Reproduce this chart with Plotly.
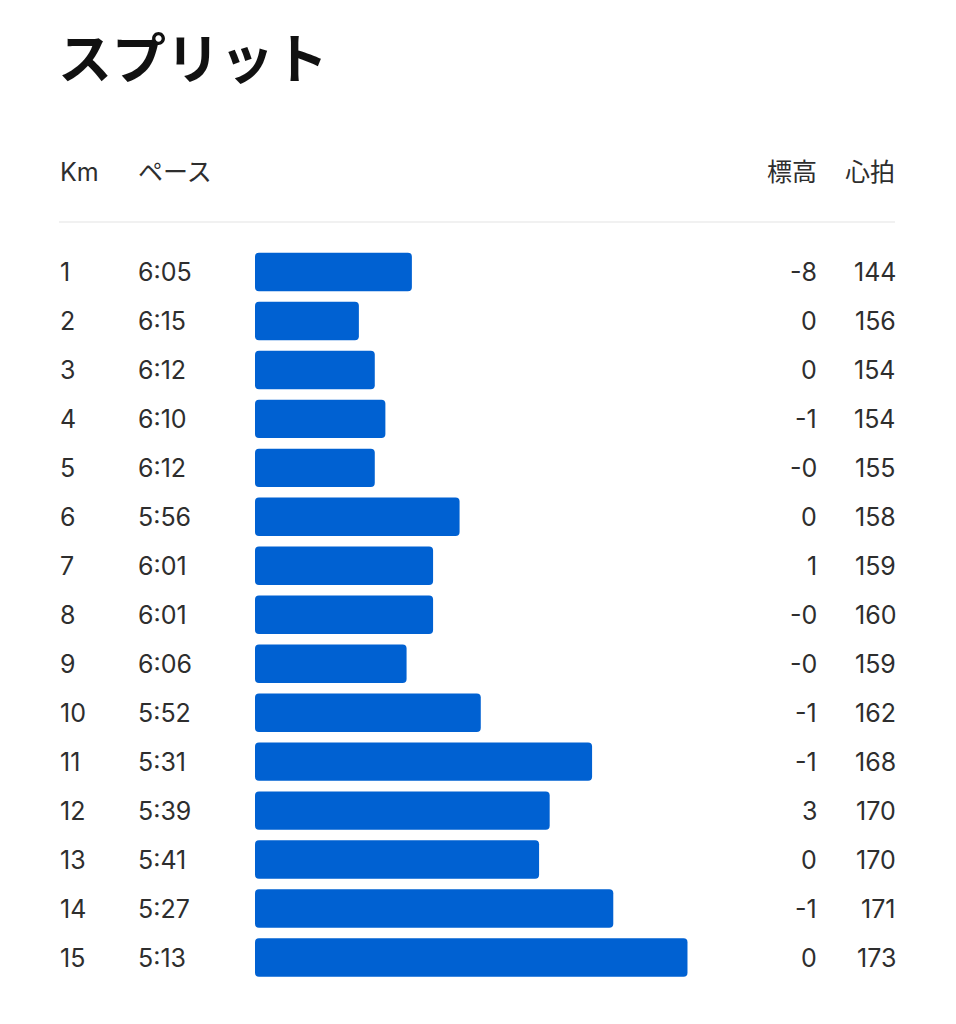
import plotly.graph_objects as go

# スプリットのデータ
km = ["1", "2", "3", "4", "5", "6", "7", "8", "9", "10", "11", "12", "13", "14", "15"]
pace = ["6:05", "6:15", "6:12", "6:10", "6:12", "5:56", "6:01", "6:01", "6:06",
        "5:52", "5:31", "5:39", "5:41", "5:27", "5:13"]
elev = ["-8", "0", "0", "-1", "-0", "0", "1", "-0", "-0", "-1", "-1", "3", "0", "-1", "0"]
hr = [144, 156, 154, 154, 155, 158, 159, 160, 159, 162, 168, 170, 170, 171, 173]

OFF = 8               # ページ余白の補正
W, H = 956 - 2 * OFF, 1024 - 2 * OFF
BASE = 394.6          # バーの起点（秒/km）
SLOW_END = BASE - 640 / 5.3

pace_sec = [int(p.split(":")[0]) * 60 + int(p.split(":")[1]) for p in pace]

FONT = "Inter, Noto Sans CJK JP, sans-serif"
TXT = "#2e2e2e"

def px(x):
    return (x - OFF) / W

def py(y):
    return 1 - (y - OFF) / H

fig = go.Figure()

fig.add_trace(go.Bar(
    y=list(range(len(km))),
    x=[p - BASE for p in pace_sec],
    base=BASE,
    orientation="h",
    width=0.785,
    marker=dict(color="#0061D2", line=dict(width=0)),
    hoverinfo="skip",
))

ann = []
# タイトル
ann.append(dict(text="<b>スプリット</b>", x=px(56), y=py(55), xref="paper", yref="paper",
                xanchor="left", yanchor="middle", showarrow=False,
                font=dict(family="Noto Sans CJK JP", size=54, color="#111111")))
# ヘッダー
for label, x, anchor in [("Km", 58, "left"), ("ペース", 136, "left"),
                         ("標高", 819, "right"), ("心拍", 897, "right")]:
    ann.append(dict(text=label, x=px(x), y=py(172), xref="paper", yref="paper",
                    xanchor=anchor, yanchor="middle", showarrow=False,
                    font=dict(family=FONT, size=25, color=TXT)))
# 各行
for i, (k, p, e, h) in enumerate(zip(km, pace, elev, hr)):
    for t, x, anchor in [(k, 58, "left"), (p, 136, "left"),
                         (e, 819, "right"), (str(h), 898, "right")]:
        ann.append(dict(text=t, x=px(x), y=i, xref="paper", yref="y",
                        xanchor=anchor, yanchor="middle", showarrow=False,
                        font=dict(family=FONT, size=25, color=TXT)))

fig.update_layout(
    width=W, height=H,
    margin=dict(l=0, r=0, t=0, b=0),
    paper_bgcolor="white", plot_bgcolor="white",
    showlegend=False,
    barcornerradius=4,
    annotations=ann,
    shapes=[dict(type="line", xref="paper", yref="paper",
                 x0=px(59), x1=px(895), y0=py(222), y1=py(222),
                 line=dict(color="#E3E3E3", width=1))],
    xaxis=dict(domain=[px(255), px(895)], range=[BASE, SLOW_END],
               visible=False, fixedrange=True),
    yaxis=dict(domain=[py(982), py(247.5)], range=[14.5, -0.5],
               visible=False, fixedrange=True),
)

fig.write_html("out.html", config={"displayModeBar": False})
